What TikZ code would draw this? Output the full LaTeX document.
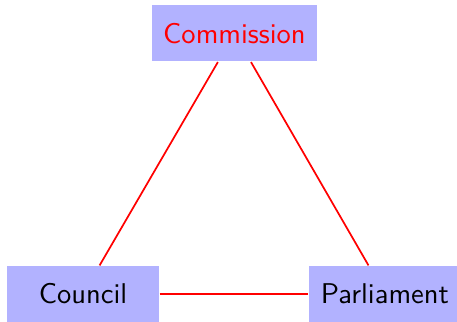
\documentclass[tikz,border=0pt]{standalone}
\usepackage{tikz}
\begin{document}
\begin{tikzpicture}[x=0.35pt,y=-0.35pt,
  box/.style={fill=blue!30,draw=none,font=\sffamily,minimum width=53.2pt,minimum height=19.6pt,inner sep=3.85pt},
  link/.style={draw=red,line width=0.6pt}]
\useasboundingbox (0,0) rectangle (457,322);
\node[box,text=red] (com) at (234.5,33.5) {Commission};
\node[box] (cou) at (83,294) {Council};
\node[box] (par) at (385,294) {Parliament};
\draw[link] (com) -- (cou);
\draw[link] (com) -- (par);
\draw[link] (cou) -- (par);
\end{tikzpicture}
\end{document}
